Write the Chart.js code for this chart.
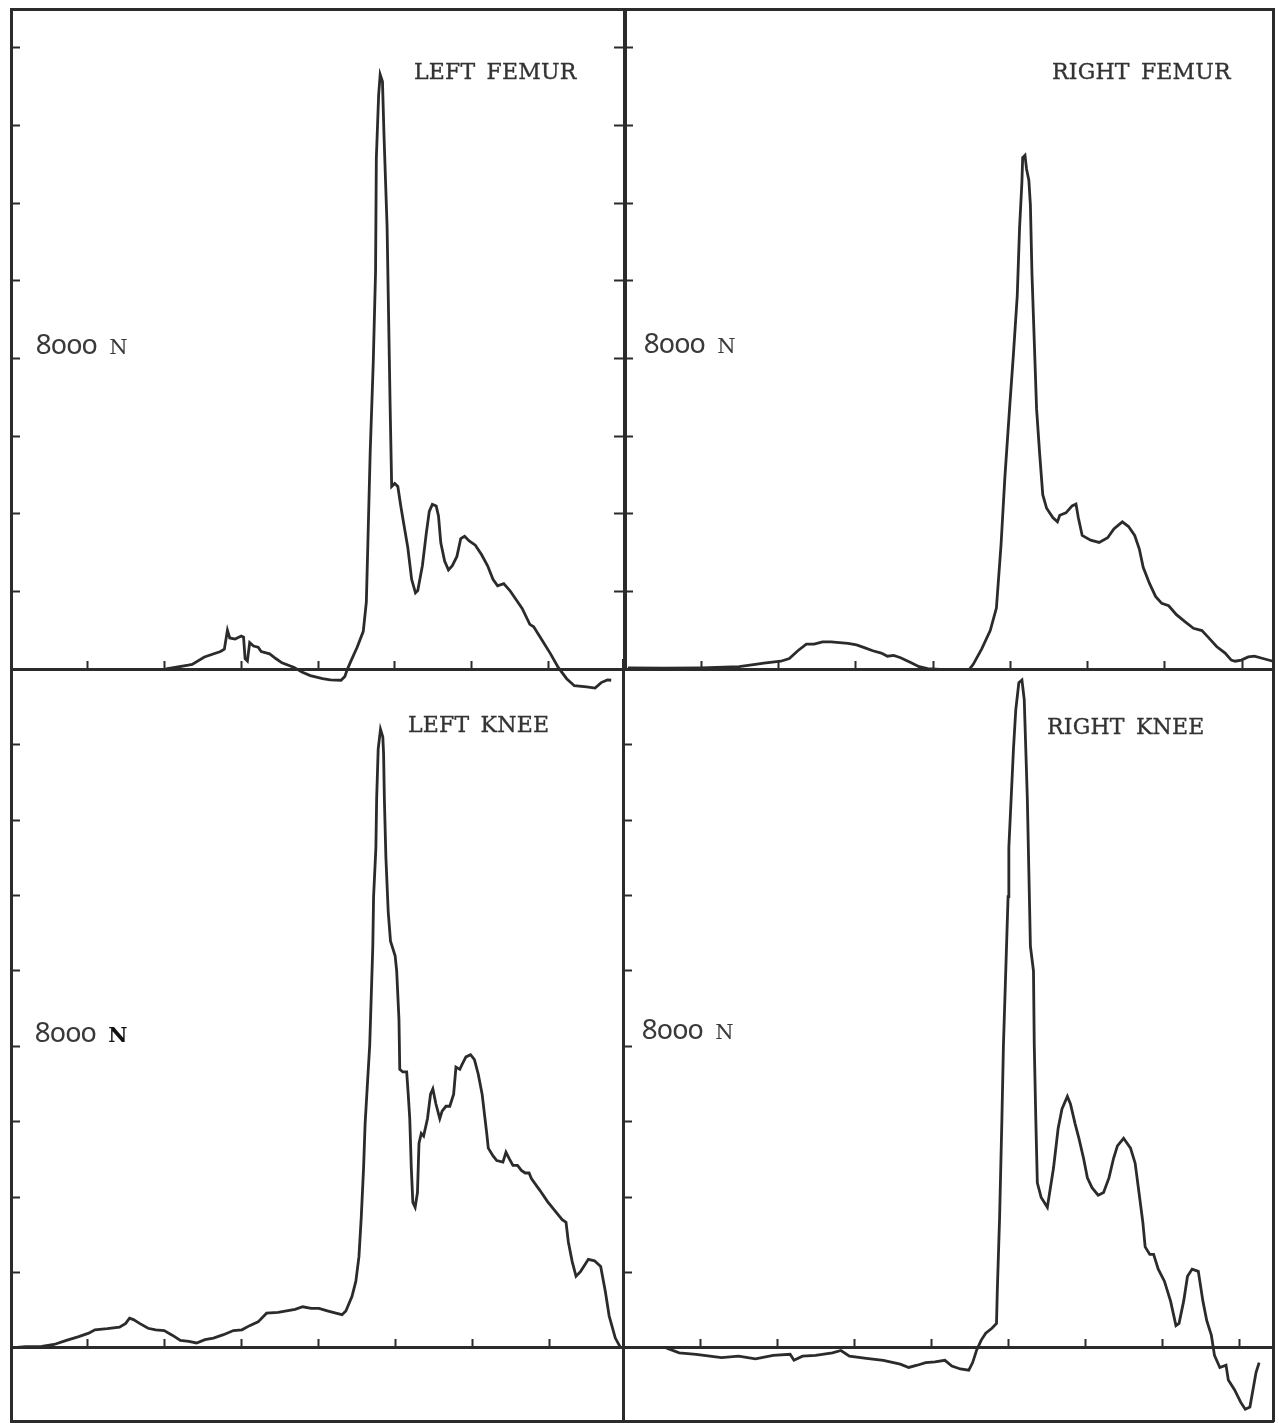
<!DOCTYPE html>
<html>
<head>
<meta charset="utf-8">
<title>Femur and knee forces</title>
<script src="https://cdn.jsdelivr.net/npm/chart.js@4.4.1/dist/chart.umd.min.js"></script>
<style>
  html, body { margin: 0; padding: 0; background: #fff; }
  body { width: 1279px; height: 1423px; overflow: hidden; position: relative; }
  canvas { position: absolute; }
  .tag {
    position: absolute; white-space: pre; color: #333;
    font-family: "DejaVu Serif", serif;
    font-size: 22px; line-height: 22px; letter-spacing: 0.2px; word-spacing: 4px;
    -webkit-text-stroke: 0.35px #333;
  }
  .force {
    position: absolute; white-space: pre; color: #3a3a3a;
    font-family: "Noto Sans", sans-serif; font-size: 28px; line-height: 28px;
    font-variant-numeric: oldstyle-nums;
  }
  .force span {
    font-family: "DejaVu Serif", serif;
    font-size: 21px; margin-left: 12px;
  }
  .force span.heavy { font-weight: bold; color: #111; }
</style>
</head>
<body>

<canvas id="leftFemur" width="622" height="695" style="left:7px;top:5px"></canvas>
<canvas id="rightFemur" width="657" height="695" style="left:620px;top:5px"></canvas>
<canvas id="leftKnee" width="620" height="769" style="left:7px;top:656px"></canvas>
<canvas id="rightKnee" width="658" height="769" style="left:619px;top:656px"></canvas>

<div class="tag" style="left:414px;top:61px">LEFT FEMUR</div>
<div class="tag" style="left:1052px;top:61px">RIGHT FEMUR</div>
<div class="tag" style="left:408px;top:714px">LEFT KNEE</div>
<div class="tag" style="left:1047px;top:716px">RIGHT KNEE</div>

<div class="force" style="left:36px;top:329px">8000<span>N</span></div>
<div class="force" style="left:644px;top:328px">8000<span>N</span></div>
<div class="force" style="left:35px;top:1017px">8000<span class="heavy">N</span></div>
<div class="force" style="left:642px;top:1014px">8000<span>N</span></div>

<script>
// x in tick intervals of the recorder trace, y in newtons
const leftFemurX = [2.02,2.31,2.36,2.52,2.73,2.78,2.82,2.85,2.92,3.00,3.03,3.05,3.08,3.11,3.16,3.22,3.26,3.37,3.45,3.53,
  3.69,3.79,3.90,4.06,4.16,4.30,4.35,4.38,4.43,4.51,4.59,4.63,4.65,4.68,4.72,4.75,4.76,4.79,4.81,4.84,
  4.86,4.90,4.92,4.94,4.96,5.00,5.04,5.08,5.12,5.17,5.22,5.27,5.30,5.36,5.41,5.45,5.49,5.54,5.57,5.60,
  5.65,5.70,5.75,5.81,5.86,5.91,5.97,6.05,6.13,6.21,6.28,6.34,6.42,6.50,6.58,6.66,6.76,6.81,6.92,7.03,
  7.13,7.24,7.34,7.50,7.61,7.69,7.77,7.82]
const leftFemurN = [0,100,120,310,450,510,1000,800,770,850,820,270,210,680,590,560,450,390,270,160,
  40,-80,-170,-250,-280,-290,-190,-20,210,560,970,1730,3250,5580,7900,10240,13150,14780,15310,15130,
  13740,11400,9070,6740,4700,4780,4700,4180,3710,3130,2310,1960,2020,2660,3480,4060,4240,4200,3940,3250,
  2780,2550,2660,2900,3360,3420,3300,3190,2950,2660,2310,2140,2200,2020,1790,1560,1150,1090,740,390,
  40,-250,-430,-460,-490,-350,-280,-290]

const rightFemurX = [0.05,0.51,1.00,1.49,1.70,1.81,2.03,2.14,2.25,2.36,2.46,2.57,2.68,2.79,2.90,3.01,3.11,3.22,3.33,3.41,
  3.49,3.58,3.71,3.82,3.93,4.09,4.47,4.52,4.63,4.74,4.82,4.88,4.93,4.99,5.04,5.09,5.12,5.15,5.16,5.19,
  5.21,5.24,5.26,5.28,5.31,5.34,5.38,5.42,5.47,5.55,5.61,5.64,5.72,5.80,5.85,5.88,5.93,6.04,6.15,6.26,
  6.34,6.45,6.53,6.61,6.67,6.72,6.80,6.88,6.96,7.05,7.15,7.26,7.37,7.48,7.56,7.67,7.78,7.86,7.91,7.99,
  8.08,8.16,8.27,8.40]
const rightFemurN = [30,20,30,60,120,150,200,270,470,640,640,700,700,680,660,620,550,470,410,330,
  350,290,170,60,10,-10,-10,120,520,990,1570,3200,4950,6700,8100,9620,11370,12530,13170,13230,
  12880,12590,11950,10200,8450,6700,5540,4490,4140,3900,3790,3960,4020,4200,4250,3900,3440,3320,3260,3380,
  3610,3790,3670,3440,3090,2620,2210,1870,1690,1630,1400,1220,1050,990,820,580,410,230,200,230,
  310,330,270,200]

const leftKneeX = [0.00,0.19,0.40,0.56,0.72,0.88,1.01,1.09,1.25,1.41,1.49,1.54,1.59,1.67,1.78,1.88,1.99,2.10,2.20,2.31,
  2.41,2.52,2.63,2.76,2.89,3.00,3.10,3.21,3.32,3.47,3.58,3.69,3.79,3.90,4.00,4.11,4.22,4.30,4.35,4.43,
  4.48,4.52,4.55,4.58,4.60,4.63,4.66,4.68,4.70,4.71,4.74,4.75,4.77,4.80,4.83,4.84,4.85,4.87,4.90,4.93,
  4.99,5.01,5.04,5.05,5.09,5.14,5.16,5.18,5.20,5.22,5.25,5.28,5.30,5.33,5.36,5.41,5.45,5.48,5.52,5.57,
  5.60,5.65,5.70,5.75,5.78,5.83,5.86,5.91,5.97,6.02,6.07,6.12,6.15,6.18,6.20,6.26,6.31,6.39,6.43,6.47,
  6.52,6.58,6.63,6.68,6.73,6.76,6.87,6.97,7.08,7.16,7.21,7.24,7.29,7.34,7.40,7.50,7.58,7.66,7.72,7.77,
  7.85,7.92]
const leftKneeN = [0,30,40,90,200,300,390,480,510,550,650,790,750,650,520,480,460,330,200,170,
  130,220,260,350,460,480,590,690,920,940,980,1020,1090,1050,1050,980,920,880,980,1370,
  1770,2420,3470,4770,5950,7000,8040,9350,10660,11970,13270,14580,15890,16410,16210,15760,14580,13010,11570,10790,
  10400,10000,8700,7390,7320,7320,6730,6080,4770,3860,3730,4120,5430,5690,5620,6080,6730,6870,6470,6080,
  6280,6410,6410,6730,7450,7390,7520,7720,7780,7650,7260,6730,6210,5690,5300,5100,4970,4930,5190,5030,
  4840,4840,4710,4640,4640,4490,4180,3880,3600,3400,3330,2810,2290,1900,2030,2350,2310,2160,1500,850,
  260,0]

const rightKneeX = [0.56,0.73,0.95,1.28,1.50,1.72,1.95,2.17,2.22,2.33,2.50,2.72,2.83,2.94,3.16,3.38,3.60,3.71,3.82,3.93,
  4.05,4.18,4.27,4.38,4.49,4.54,4.59,4.65,4.71,4.79,4.85,4.86,4.89,4.92,4.94,4.97,5.00,5.01,5.04,5.07,
  5.10,5.14,5.18,5.21,5.23,5.25,5.27,5.29,5.33,5.34,5.36,5.38,5.43,5.51,5.54,5.59,5.65,5.70,5.77,5.81,
  5.87,5.92,5.98,6.03,6.09,6.17,6.24,6.31,6.37,6.42,6.50,6.59,6.65,6.70,6.75,6.78,6.84,6.89,6.95,7.03,
  7.11,7.18,7.22,7.28,7.33,7.39,7.47,7.53,7.58,7.64,7.68,7.75,7.83,7.86,7.94,8.02,8.08,8.14,8.18,8.22,
  8.26]
const rightKneeN = [0,-130,-170,-260,-220,-290,-200,-170,-330,-220,-200,-130,-70,-220,-280,-330,-430,-520,-460,-390,
  -370,-330,-480,-560,-590,-390,-70,200,390,520,650,1500,3470,6080,8040,10000,11970,13270,14580,15890,
  16930,17650,17720,17200,15890,14580,12620,10660,10000,8040,6080,4380,3990,3730,4120,4770,5820,6340,6670,6470,
  5950,5560,5030,4510,4250,4050,4120,4510,5030,5360,5560,5300,4900,4120,3330,2680,2480,2480,2090,1770,
  1240,590,650,1240,1900,2090,2030,1240,720,330,-200,-520,-460,-850,-1110,-1440,-1630,-1570,-1110,-650,
  -390]

// tick marks
const timeTicksLeft = [1, 2, 3, 4, 5, 6, 7]
const timeTicksRight = [1, 2, 3, 4, 5, 6, 7, 8]
const forceTicksFemur = [2000, 4000, 6000, 8000, 10000, 12000, 14000, 16000]
const forceTicksKnee = [2000, 4000, 6000, 8000, 10000, 12000, 14000, 16000, 18000]

const ink = '#2b2b2b'

function fixedTicks(values) {
    return (scale) => {
        scale.ticks = values.map((v) => ({ value: v }))
    }
}

// an axis drawn as a frame line, optionally with short tick marks
function frameAxis(axis, position, min, max, tickValues, tickLength) {
    return {
        type: 'linear',
        axis: axis,
        display: true,
        min: min,
        max: max,
        position: position,
        ticks: { display: false },
        grid: {
            display: !!tickValues,
            drawOnChartArea: false,
            drawTicks: true,
            tickLength: tickLength || 0,
            tickWidth: 2,
            tickColor: ink
        },
        border: { display: true, color: ink, width: 3 },
        afterBuildTicks: fixedTicks(tickValues || [])
    }
}

function drawPanel(id, label, xs, ys, padBottom, scales) {
    const points = xs.map((x, i) => ({ x: x, y: ys[i] }))
    return new Chart(document.getElementById(id), {
        type: 'line',
        data: {
            datasets: [{
                label: label,
                data: points,
                borderColor: ink,
                borderWidth: 2.8,
                pointRadius: 0,
                tension: 0,
                fill: false,
                clip: false
            }]
        },
        options: {
            responsive: false,
            animation: false,
            devicePixelRatio: 1,
            events: [],
            layout: { padding: { left: 4, right: 4, top: 4, bottom: padBottom } },
            plugins: { legend: { display: false }, tooltip: { enabled: false } },
            scales: scales
        }
    })
}

drawPanel('leftFemur', 'Left femur', leftFemurX, leftFemurN, 31, {
    x: frameAxis('x', { y: 0 }, 0, 8, timeTicksLeft, -10),
    y: frameAxis('y', { x: 0 }, 0, 17000, forceTicksFemur, -10),
    yRight: frameAxis('y', { x: 8 }, 0, 17000, forceTicksFemur, 10),
    xTop: frameAxis('x', { y: 17000 }, 0, 8)
})

drawPanel('rightFemur', 'Right femur', rightFemurX, rightFemurN, 31, {
    x: frameAxis('x', { y: 0 }, 0, 8.4, timeTicksRight, -10),
    y: frameAxis('y', { x: 0 }, 0, 17000, forceTicksFemur, -10),
    yRight: frameAxis('y', { x: 8.4 }, 0, 17000),
    xTop: frameAxis('x', { y: 17000 }, 0, 8.4)
})

drawPanel('leftKnee', 'Left knee', leftKneeX, leftKneeN, 4, {
    x: frameAxis('x', { y: 0 }, 0, 7.95, timeTicksLeft, -10),
    y: frameAxis('y', { x: 0 }, -1940, 18250, forceTicksKnee, -10),
    yRight: frameAxis('y', { x: 7.95 }, -1940, 18250),
    xBottom: frameAxis('x', { y: -1940 }, 0, 7.95)
})

drawPanel('rightKnee', 'Right knee', rightKneeX, rightKneeN, 4, {
    x: frameAxis('x', { y: 0 }, 0, 8.44, timeTicksRight, -10),
    y: frameAxis('y', { x: 0 }, -1940, 18250, forceTicksKnee, -10),
    yRight: frameAxis('y', { x: 8.44 }, -1940, 18250),
    xBottom: frameAxis('x', { y: -1940 }, 0, 8.44)
})
</script>
</body>
</html>
